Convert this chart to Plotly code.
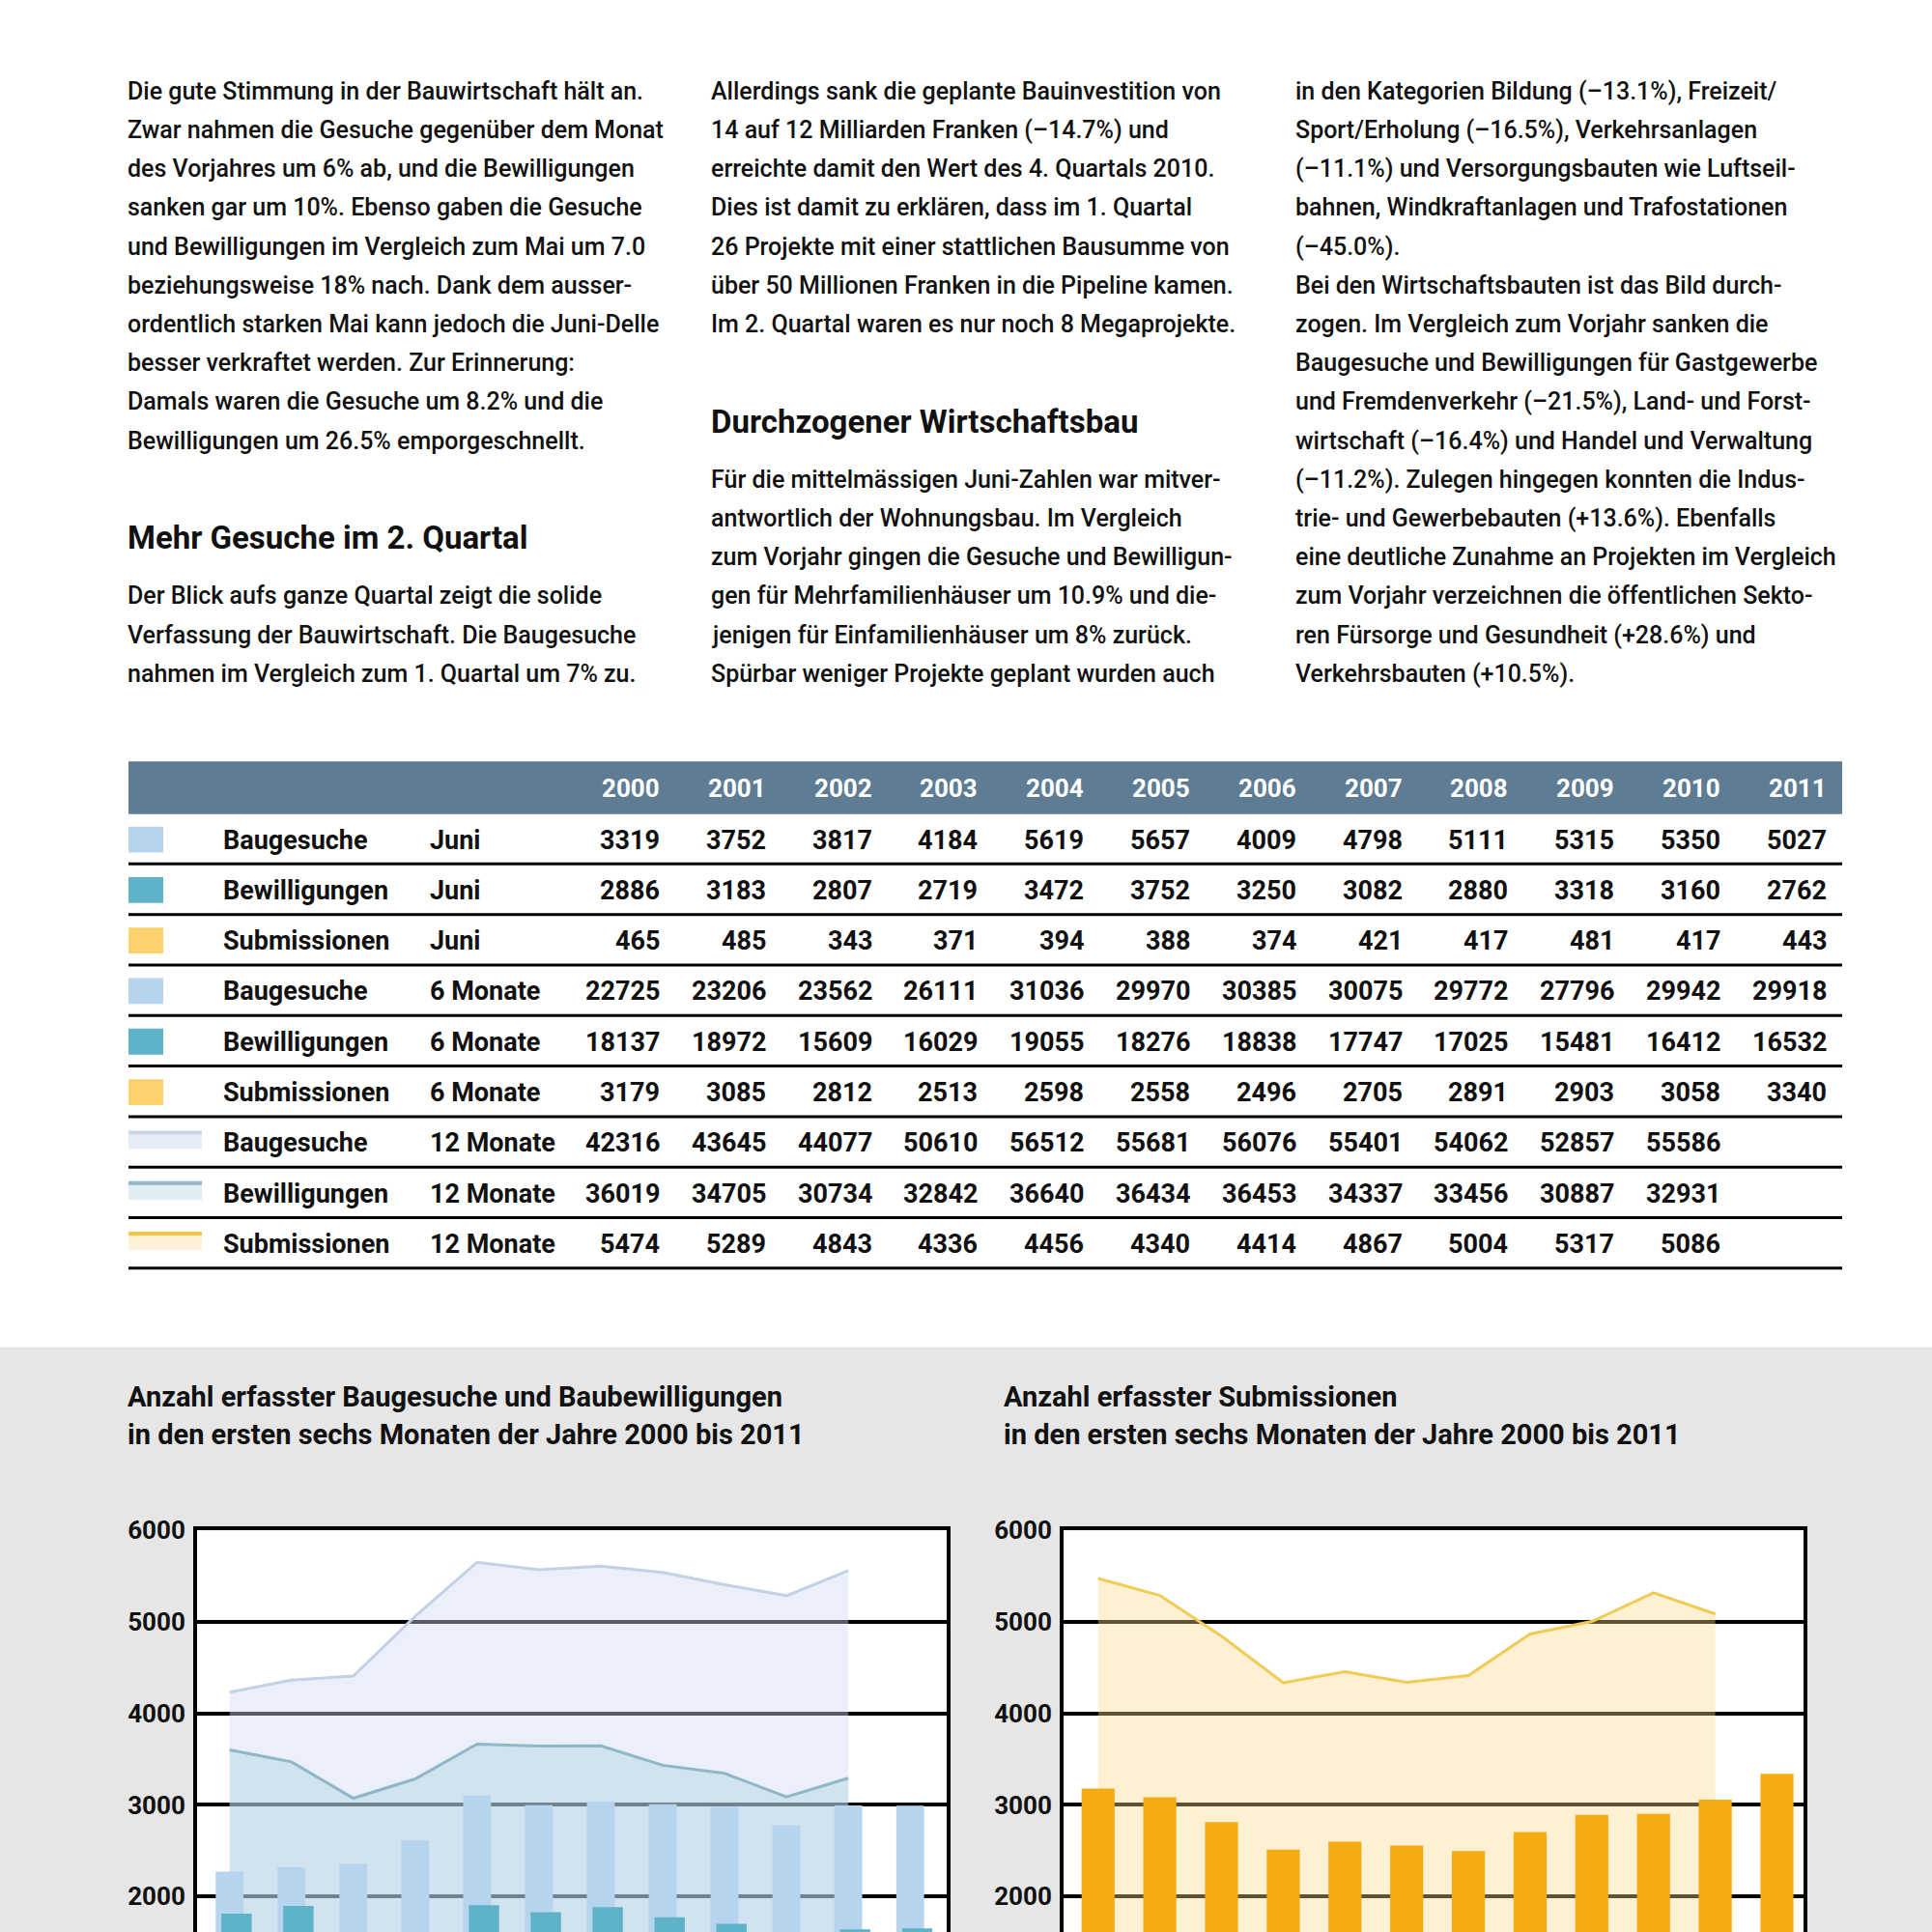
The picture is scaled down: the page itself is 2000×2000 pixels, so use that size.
import plotly.graph_objects as go

# ---------------- data ----------------
years = [2000, 2001, 2002, 2003, 2004, 2005, 2006, 2007, 2008, 2009, 2010, 2011]
year_labels = [str(y) for y in years]

juni_baugesuche = [3319, 3752, 3817, 4184, 5619, 5657, 4009, 4798, 5111, 5315, 5350, 5027]
juni_bewilligungen = [2886, 3183, 2807, 2719, 3472, 3752, 3250, 3082, 2880, 3318, 3160, 2762]
juni_submissionen = [465, 485, 343, 371, 394, 388, 374, 421, 417, 481, 417, 443]

sechs_baugesuche = [22725, 23206, 23562, 26111, 31036, 29970, 30385, 30075, 29772, 27796, 29942, 29918]
sechs_bewilligungen = [18137, 18972, 15609, 16029, 19055, 18276, 18838, 17747, 17025, 15481, 16412, 16532]
sechs_submissionen = [3179, 3085, 2812, 2513, 2598, 2558, 2496, 2705, 2891, 2903, 3058, 3340]

zwoelf_baugesuche = [42316, 43645, 44077, 50610, 56512, 55681, 56076, 55401, 54062, 52857, 55586, None]
zwoelf_bewilligungen = [36019, 34705, 30734, 32842, 36640, 36434, 36453, 34337, 33456, 30887, 32931, None]
zwoelf_submissionen = [5474, 5289, 4843, 4336, 4456, 4340, 4414, 4867, 5004, 5317, 5086, None]

row_names = ["Baugesuche", "Bewilligungen", "Submissionen"] * 3
row_periods = ["Juni"] * 3 + ["6 Monate"] * 3 + ["12 Monate"] * 3
row_values = [juni_baugesuche, juni_bewilligungen, juni_submissionen,
              sechs_baugesuche, sechs_bewilligungen, sechs_submissionen,
              zwoelf_baugesuche, zwoelf_bewilligungen, zwoelf_submissionen]

left_tickvals = [20000, 30000, 40000, 50000, 60000]
left_ticktext = ["2000", "3000", "4000", "5000", "6000"]
right_tickvals = [2000, 3000, 4000, 5000, 6000]

title_left = ["Anzahl erfasster Baugesuche und Baubewilligungen",
              "in den ersten sechs Monaten der Jahre 2000 bis 2011"]
title_right = ["Anzahl erfasster Submissionen",
               "in den ersten sechs Monaten der Jahre 2000 bis 2011"]

col1 = [
    "Die gute Stimmung in der Bauwirtschaft hält an.",
    "Zwar nahmen die Gesuche gegenüber dem Monat",
    "des Vorjahres um 6% ab, und die Bewilligungen",
    "sanken gar um 10%. Ebenso gaben die Gesuche",
    "und Bewilligungen im Vergleich zum Mai um 7.0",
    "beziehungsweise 18% nach. Dank dem ausser-",
    "ordentlich starken Mai kann jedoch die Juni-Delle",
    "besser verkraftet werden. Zur Erinnerung:",
    "Damals waren die Gesuche um 8.2% und die",
    "Bewilligungen um 26.5% emporgeschnellt.",
]
col1_head = "Mehr Gesuche im 2. Quartal"
col1b = [
    "Der Blick aufs ganze Quartal zeigt die solide",
    "Verfassung der Bauwirtschaft. Die Baugesuche",
    "nahmen im Vergleich zum 1. Quartal um 7% zu.",
]
col2 = [
    "Allerdings sank die geplante Bauinvestition von",
    "14 auf 12 Milliarden Franken (–14.7%) und",
    "erreichte damit den Wert des 4. Quartals 2010.",
    "Dies ist damit zu erklären, dass im 1. Quartal",
    "26 Projekte mit einer stattlichen Bausumme von",
    "über 50 Millionen Franken in die Pipeline kamen.",
    "Im 2. Quartal waren es nur noch 8 Megaprojekte.",
]
col2_head = "Durchzogener Wirtschaftsbau"
col2b = [
    "Für die mittelmässigen Juni-Zahlen war mitver-",
    "antwortlich der Wohnungsbau. Im Vergleich",
    "zum Vorjahr gingen die Gesuche und Bewilligun-",
    "gen für Mehrfamilienhäuser um 10.9% und die-",
    "jenigen für Einfamilienhäuser um 8% zurück.",
    "Spürbar weniger Projekte geplant wurden auch",
]
col3 = [
    "in den Kategorien Bildung (–13.1%), Freizeit/",
    "Sport/Erholung (–16.5%), Verkehrsanlagen",
    "(–11.1%) und Versorgungsbauten wie Luftseil-",
    "bahnen, Windkraftanlagen und Trafostationen",
    "(–45.0%).",
    "Bei den Wirtschaftsbauten ist das Bild durch-",
    "zogen. Im Vergleich zum Vorjahr sanken die",
    "Baugesuche und Bewilligungen für Gastgewerbe",
    "und Fremdenverkehr (–21.5%), Land- und Forst-",
    "wirtschaft (–16.4%) und Handel und Verwaltung",
    "(–11.2%). Zulegen hingegen konnten die Indus-",
    "trie- und Gewerbebauten (+13.6%). Ebenfalls",
    "eine deutliche Zunahme an Projekten im Vergleich",
    "zum Vorjahr verzeichnen die öffentlichen Sekto-",
    "ren Fürsorge und Gesundheit (+28.6%) und",
    "Verkehrsbauten (+10.5%).",
]

# ---------------- styling ----------------
W = H = 2000
FONT = "Roboto"
INK = "#111111"
C_BAU = "#b7d4ee"
C_BEW = "#5fb3c8"
C_SUB_SW = "#fcd26c"
C_SUB_BAR = "#f5ab12"
C_HEAD = "#5e7d95"
C_GREY = "#e5e6e5"


def px(x):
    return x / W


def py(y):
    return 1 - y / H


fig = go.Figure()
ann = []
shapes = []


def text(x, y, s, size=25, bold=False, color=INK, anchor="left", weight=None):
    w = weight if weight is not None else ("bold" if bold else "normal")
    ann.append(dict(x=px(x), y=py(y), xref="paper", yref="paper", text=s,
                    showarrow=False, xanchor=anchor, yanchor="middle",
                    font=dict(family=FONT, size=size, color=color, weight=w)))


def rect(x0, y0, x1, y1, color):
    shapes.append(dict(type="rect", xref="paper", yref="paper",
                       x0=px(x0), x1=px(x1), y0=py(y1), y1=py(y0),
                       fillcolor=color, line=dict(width=0), layer="below"))


def hline(x0, x1, y, color="black", width=3):
    shapes.append(dict(type="line", xref="paper", yref="paper",
                       x0=px(x0), x1=px(x1), y0=py(y), y1=py(y),
                       line=dict(color=color, width=width), layer="above"))


# ---------------- body text ----------------
LINE0, LS = 80, 40.5
BODY = 25
for i, s in enumerate(col1):
    text(130, LINE0 + LS * i, s, size=BODY, weight=500)
text(130, LINE0 + LS * 11.5, col1_head, size=33, bold=True)
for i, s in enumerate(col1b):
    text(130, LINE0 + LS * (13 + i), s, size=BODY, weight=500)
for i, s in enumerate(col2):
    text(734, LINE0 + LS * i, s, size=BODY, weight=500)
text(734, LINE0 + LS * 8.5, col2_head, size=33, bold=True)
for i, s in enumerate(col2b):
    text(734, LINE0 + LS * (10 + i), s, size=BODY, weight=500)
for i, s in enumerate(col3):
    text(1339, LINE0 + LS * i, s, size=BODY, weight=500)

# ---------------- table ----------------
TX0, TX1 = 133, 1907
rect(TX0, 779, TX1, 834, C_HEAD)
col_right = [685 + 109.8 * i for i in range(len(years))]
for xr, lab in zip(col_right, year_labels):
    text(xr, 807, lab, size=26, bold=True, color="white", anchor="right")

row_y = [861 + 52.7 * i for i in range(9)]
sw_colors = [C_BAU, C_BEW, C_SUB_SW]
band_fill = ["#e7edf6", "#e1ecf3", "#fdf1d8"]
band_line = ["#c9d6e8", "#93b5c8", "#f5c447"]
for r in range(9):
    yc = row_y[r]
    k = r % 3
    if r < 6:
        rect(133, yc - 14, 169, yc + 13, sw_colors[k])
    else:
        rect(133, yc - 12, 209, yc + 6, band_fill[k])
        hline(133, 209, yc - 11, color=band_line[k], width=4)
    text(229, yc, row_names[r], size=27, bold=True)
    text(443, yc, row_periods[r], size=27, bold=True)
    for xr, v in zip(col_right, row_values[r]):
        if v is not None:
            text(xr, yc, f"{v}", size=27, bold=True, anchor="right")
    hline(TX0, TX1, yc + 25, width=3)

# ---------------- chart section ----------------
rect(0, 1390, 2000, 2000, C_GREY)
TOP = 1581
LX0, LX1 = 204, 980
RX0, RX1 = 1101, 1867
rect(LX0, TOP, LX1, 2000, "white")
rect(RX0, TOP, RX1, 2000, "white")

for i, s in enumerate(title_left):
    text(130, 1442 + 39 * i, s, size=29, bold=True)
for i, s in enumerate(title_right):
    text(1037, 1442 + 39 * i, s, size=29, bold=True)

# left chart: areas (12 Monate) on base axes, bars (6 Monate) on overlay axes above
fig.add_trace(go.Scatter(x=years, y=zwoelf_baugesuche, mode="lines", fill="tozeroy",
                         line=dict(color="#c3d1e6", width=3),
                         fillcolor="rgba(205,218,240,0.42)", xaxis="x", yaxis="y",
                         showlegend=False))
fig.add_trace(go.Scatter(x=years, y=zwoelf_bewilligungen, mode="lines", fill="tozeroy",
                         line=dict(color="#8fb7c7", width=3),
                         fillcolor="rgba(160,205,222,0.35)", xaxis="x", yaxis="y",
                         showlegend=False))
fig.add_trace(go.Bar(x=years, y=sechs_baugesuche, marker=dict(color=C_BAU, line=dict(width=0)),
                     width=0.45, offset=-0.225, xaxis="x", yaxis="y3", showlegend=False))
fig.add_trace(go.Bar(x=years, y=sechs_bewilligungen, marker=dict(color=C_BEW, line=dict(width=0)),
                     width=0.49, offset=-0.133, xaxis="x", yaxis="y3", showlegend=False))

# right chart
fig.add_trace(go.Scatter(x=years, y=zwoelf_submissionen, mode="lines", fill="tozeroy",
                         line=dict(color="#f0cb55", width=3),
                         fillcolor="rgba(250,215,140,0.38)", xaxis="x2", yaxis="y2",
                         showlegend=False))
fig.add_trace(go.Bar(x=years, y=sechs_submissionen, marker=dict(color=C_SUB_BAR, line=dict(width=0)),
                     width=0.535, offset=-0.268, xaxis="x2", yaxis="y4", showlegend=False))

PXPER = 95.5  # pixels per grid step
ydom = [0, py(TOP)]
steps = (2000 - TOP) / PXPER
left_range = [60000 - steps * 10000, 60000]
right_range = [6000 - steps * 1000, 6000]

axis_font = dict(family=FONT, size=26, color=INK, weight="bold")
common_x = dict(showgrid=False, zeroline=False, showticklabels=False, ticks="",
                side="top", showline=True, linecolor="black", linewidth=4, fixedrange=True)
common_y = dict(showgrid=True, gridcolor="black", gridwidth=4, zeroline=False,
                showline=True, mirror=True, linecolor="black", linewidth=4,
                ticks="", tickfont=axis_font, ticklabelstandoff=3, fixedrange=True)
overlay_y = dict(visible=False, showgrid=False, zeroline=False, fixedrange=True)

fig.update_layout(
    width=W, height=H, margin=dict(l=0, r=0, t=0, b=0),
    paper_bgcolor="white", plot_bgcolor="rgba(0,0,0,0)",
    barmode="overlay", showlegend=False,
    xaxis=dict(domain=[px(LX0), px(LX1)], range=[1999.474, 2011.59], anchor="y", **common_x),
    yaxis=dict(domain=ydom, range=left_range, anchor="x",
               tickvals=left_tickvals, ticktext=left_ticktext, **common_y),
    yaxis3=dict(overlaying="y", range=left_range, anchor="x", **overlay_y),
    xaxis2=dict(domain=[px(RX0), px(RX1)], range=[1999.44, 2011.43], anchor="y2", **common_x),
    yaxis2=dict(domain=ydom, range=right_range, anchor="x2",
                tickvals=right_tickvals, **common_y),
    yaxis4=dict(overlaying="y2", range=right_range, anchor="x2", **overlay_y),
    annotations=ann, shapes=shapes,
)

fig.write_html("out.html", config={"displayModeBar": False},
               post_script="document.body.style.margin='0px';")
